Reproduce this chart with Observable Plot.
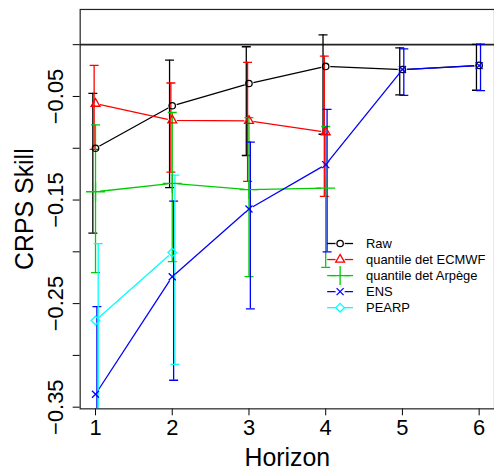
<!DOCTYPE html>
<html><head><meta charset="utf-8">
<script src="https://cdn.jsdelivr.net/npm/d3@7"></script>
<script src="https://cdn.jsdelivr.net/npm/@observablehq/plot@0.6"></script>
<style>html,body{margin:0;padding:0;overflow:hidden;background:#fff;}</style>
</head><body><div id="chart"></div>
<script>
// ---- data ----
const horizons = [1, 2, 3, 4, 5, 6];
const seriesNames = ["Raw", "quantile det ECMWF", "quantile det Arpège", "ENS", "PEARP"];

const rawMean = [-0.100, -0.059, -0.0375, -0.021, -0.024, -0.020];
const rawLo   = [-0.182, -0.138, -0.107, -0.0865, -0.0485, -0.044];
const rawHi   = [-0.047, -0.015, -0.002, 0.0095, -0.003, 0.0003];

const ecmwfMean = [-0.057, -0.073, -0.0735, -0.0845];
const ecmwfLo   = [-0.101, -0.123, -0.132, -0.1465];
const ecmwfHi   = [-0.020, -0.037, -0.017, -0.011];

const arpegeMean = [-0.142, -0.134, -0.140, -0.1385];
const arpegeLo   = [-0.220, -0.2095, -0.224, -0.215];
const arpegeHi   = [-0.0775, -0.0655, -0.0705, -0.079];

const ensMean = [-0.3375, -0.224, -0.1587, -0.1158, -0.024, -0.0202];
const ensLo   = [-0.422, -0.324, -0.255, -0.200, -0.049, -0.0443];
const ensHi   = [-0.253, -0.151, -0.094, -0.0625, -0.004, 0.0006];

const pearpMean = [-0.2663, -0.2007];
const pearpLo   = [-0.380, -0.3087];
const pearpHi   = [-0.192, -0.126];

const yTicks = [0, -0.05, -0.10, -0.15, -0.20, -0.25, -0.30, -0.35];
const yTickLabels = [-0.05, -0.15, -0.25, -0.35];

// ---- build rows ----
const seriesValues = [
  [rawMean, rawLo, rawHi],
  [ecmwfMean, ecmwfLo, ecmwfHi],
  [arpegeMean, arpegeLo, arpegeHi],
  [ensMean, ensLo, ensHi],
  [pearpMean, pearpLo, pearpHi]
];

// ---- styles ----
const styles = [
  {color: "#000000", symbol: "circle",   r: 3.2, offset: -0.035},
  {color: "#FF0000", symbol: "triangle", r: 3.3, offset: -0.018},
  {color: "#00CD00", symbol: "plus",     r: 6.2, offset: 0},
  {color: "#0000FF", symbol: "times",    r: 3.3, offset: 0.018},
  {color: "#00FFFF", symbol: "diamond2", r: 3.9, offset: 0.035}
];

const hline = {draw(ctx, size) { const w = Math.sqrt(size / Math.PI); ctx.moveTo(-w, 0); ctx.lineTo(w, 0); }};
const font = "'Liberation Sans', Arial, Helvetica, sans-serif";
const lw = 1.3;

const series = seriesNames.map((name, i) => {
  const [m, lo, hi] = seriesValues[i];
  return {name, style: styles[i], rows: m.map((v, j) => ({h: horizons[j], mean: v, lo: lo[j], hi: hi[j]}))};
});

const marks = [];
marks.push(Plot.ruleY([0], {stroke: "#222", strokeWidth: 1.8}));
for (const s of series) marks.push(Plot.line(s.rows, {x: "h", y: "mean", stroke: s.style.color, strokeWidth: lw}));
for (const s of series) marks.push(Plot.dot(s.rows, {x: "h", y: "mean", r: 4.6, fill: "white"}));
for (const s of series) {
  const off = s.style.offset;
  marks.push(Plot.ruleX(s.rows, {x: d => d.h + off, y1: "lo", y2: "hi", stroke: s.style.color, strokeWidth: lw, clip: true}));
  marks.push(Plot.dot(s.rows, {x: d => d.h + off, y: "lo", symbol: hline, r: 4.5, stroke: s.style.color, fill: "none", strokeWidth: lw, clip: true}));
  marks.push(Plot.dot(s.rows, {x: d => d.h + off, y: "hi", symbol: hline, r: 4.5, stroke: s.style.color, fill: "none", strokeWidth: lw, clip: true}));
}
for (const s of series) marks.push(Plot.dot(s.rows, {x: "h", y: "mean", symbol: s.style.symbol, r: s.style.r, stroke: s.style.color, fill: "none", strokeWidth: lw}));

// legend
series.forEach((s, i) => {
  const dy = 235 + i * 16.1;
  marks.push(Plot.dot([0], {frameAnchor: "top-left", dx: 261, dy, symbol: hline, r: 13, stroke: s.style.color, strokeWidth: lw}));
  marks.push(Plot.dot([0], {frameAnchor: "top-left", dx: 261, dy, r: 4.6, fill: "white"}));
  marks.push(Plot.dot([0], {frameAnchor: "top-left", dx: 261, dy, symbol: s.style.symbol, r: s.style.r, stroke: s.style.color, fill: "none", strokeWidth: lw}));
  marks.push(Plot.text([s.name], {frameAnchor: "top-left", dx: 287, dy, textAnchor: "start", lineAnchor: "middle", fontSize: 13}));
});

// axes
marks.push(Plot.axisX(horizons, {tickSize: 7, tickPadding: 4, fontSize: 22, label: null}));
marks.push(Plot.axisY(yTicks, {tickSize: 7, tickFormat: () => "", label: null}));
marks.push(Plot.text(yTickLabels, {y: d => d, frameAnchor: "left", rotate: -90, dx: -17, text: d => d3.format(".2f")(d), fontSize: 22, textAnchor: "middle", lineAnchor: "bottom"}));
marks.push(Plot.text(["CRPS Skill"], {frameAnchor: "left", rotate: -90, dx: -47, fontSize: 25, textAnchor: "middle", lineAnchor: "bottom"}));
marks.push(Plot.text(["Horizon"], {frameAnchor: "bottom", dy: 57, fontSize: 25, textAnchor: "middle", lineAnchor: "bottom"}));
marks.push(Plot.frame({stroke: "#222", strokeWidth: 1.2}));

const chart = Plot.plot({
  width: 496,
  height: 472,
  marginLeft: 80,
  marginRight: 0,
  marginTop: 9,
  marginBottom: 62,
  x: {domain: [0.8, 6.2]},
  y: {domain: [-0.3516, 0.034]},
  style: {fontFamily: font, background: "#fff", color: "#000"},
  marks
});
document.getElementById("chart").appendChild(chart);
</script>
</body></html>
